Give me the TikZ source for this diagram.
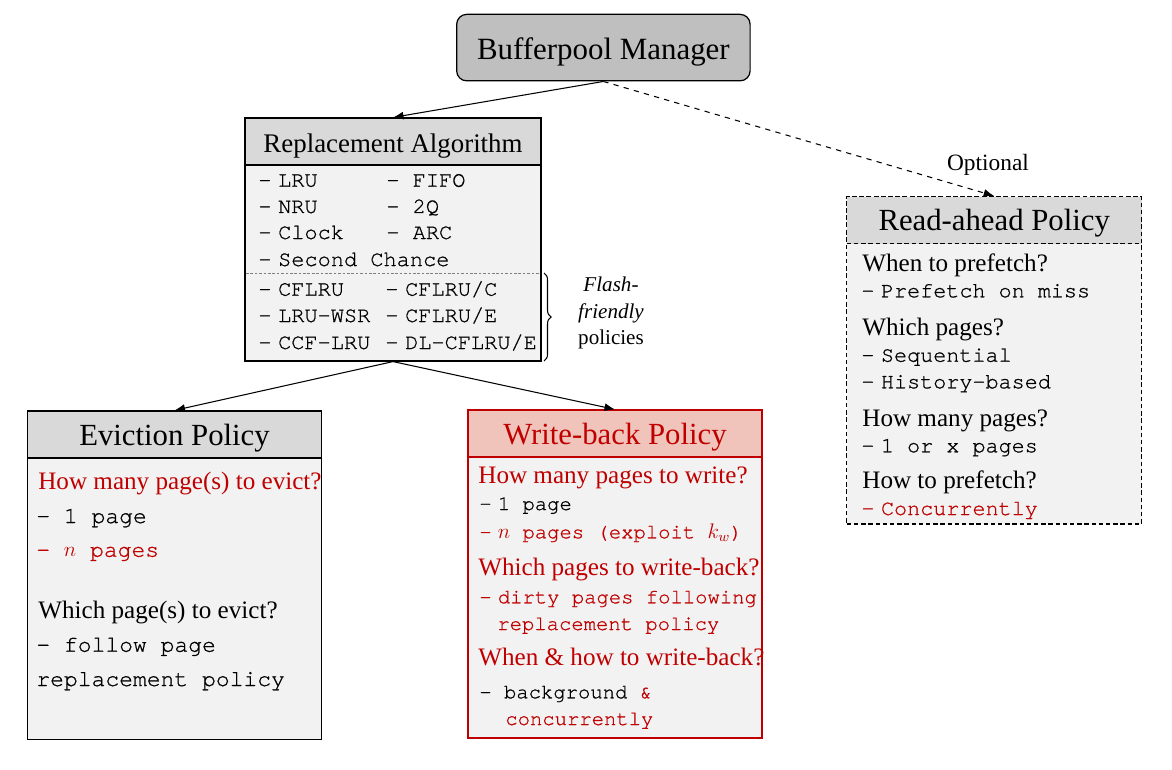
\documentclass[tikz,border=0pt]{standalone}
\usepackage{fontspec}
\setmainfont{Liberation Serif}
\setmonofont[FakeBold=0.8]{TeX Gyre Cursor}
\usepackage{xcolor}
\usetikzlibrary{arrows.meta, positioning, calc, decorations.pathreplacing}

\definecolor{hdgray}{HTML}{D9D9D9}
\definecolor{bodygray}{HTML}{F2F2F2}
\definecolor{mgrgray}{HTML}{BFBFBF}
\definecolor{wbpink}{HTML}{F0C4BA}
\definecolor{darkred}{HTML}{C00000}

\newcommand{\dashgap}{-\hspace{0.3em}}

\tikzset{
  box/.style={draw, line width=0.7pt, fill=bodygray, inner sep=0pt},
  hdr/.style={draw, line width=0.7pt, fill=hdgray, inner sep=0pt, minimum height=0.94cm,
    text height=13pt, text depth=1pt, font=\fontsize{17.5}{20}\selectfont},
  txt/.style={anchor=base west, inner sep=0pt},
  qst/.style={txt, font=\fontsize{14.3}{17}\selectfont},
  racode/.style={txt, font=\ttfamily\fontsize{12.5}{15}\selectfont},
  evcode/.style={txt, font=\ttfamily\fontsize{13.1}{15}\selectfont},
  wbcode/.style={txt, font=\ttfamily\fontsize{11.7}{14}\selectfont},
  rhcode/.style={txt, font=\ttfamily\fontsize{12.4}{15}\selectfont},
  brtxt/.style={anchor=base, inner sep=0pt, font=\fontsize{12}{14}\selectfont},
  sepline/.style={draw=gray, line width=0.4pt, dash pattern=on 1.5pt off 1pt},
  conn/.style={-{Latex[length=6pt,width=4.5pt]}, line width=0.6pt}
}

\begin{document}
\begin{tikzpicture}[x=0.02cm, y=-0.02cm]
  \useasboundingbox (0,0) rectangle (1172,770);

  % Bufferpool Manager
  \node[draw, line width=0.7pt, fill=mgrgray, rounded corners=0.2cm, minimum width=5.87cm,
    minimum height=1.33cm, text height=14pt, text depth=1pt,
    font=\fontsize{17.6}{20}\selectfont] (bm) at (603.4,47.6) {Bufferpool Manager};

  % Replacement Algorithm
  \node[box, minimum width=5.92cm, minimum height=4.86cm] (ra) at (393,239.5) {};
  \node[hdr, minimum width=5.92cm, anchor=north, font=\fontsize{15.3}{18}\selectfont] (rahd) at (ra.north) {Replacement Algorithm};
  \node[racode] (lru) at (258,186.7) {\dashgap LRU};
  \node[racode] (fifo) at (386,186.7) {- FIFO};
  \node[racode] (nru) at (258,213) {\dashgap NRU};
  \node[racode] (twoq) at (386,213) {- 2Q};
  \node[racode] (clock) at (258,239) {\dashgap Clock};
  \node[racode] (arc) at (386,239) {- ARC};
  \node[racode] (second) at (258,266) {\dashgap Second Chance};
  \draw[sepline] (246,273) -- (540,273);
  \node[racode] (cflru) at (258,295.7) {\dashgap CFLRU};
  \node[racode] (cflruc) at (385,295.7) {\dashgap CFLRU/C};
  \node[racode] (lruwsr) at (258,322) {\dashgap LRU-WSR};
  \node[racode] (cflrue) at (385,322) {\dashgap CFLRU/E};
  \node[racode] (ccflru) at (258,349) {\dashgap CCF-LRU};
  \node[racode] (dlcflru) at (385,349) {\dashgap DL-CFLRU/E};

  % brace for flash-friendly ones
  \draw[line width=0.6pt, decorate, decoration={brace, amplitude=4pt}] (544,273) -- (544,361);
  \node[brtxt] (flash) at (611,291.7) {\textit{Flash-}};
  \node[brtxt] (friendly) at (611,318) {\textit{friendly}};
  \node[brtxt] (policies) at (611,344) {policies};

  % Eviction Policy
  \node[box, minimum width=5.89cm, minimum height=6.57cm] (ev) at (174.5,575.2) {};
  \node[hdr, minimum width=5.89cm, anchor=north] (evhd) at (ev.north) {Eviction Policy};
  \node[qst, text=darkred] (evq1) at (38,489.3) {How many page(s) to evict?};
  \node[evcode] (eva1) at (36,523) {- 1 page};
  \node[evcode, text=darkred] (eva2) at (36,556.7) {- $n$ pages};
  \node[qst] (evq2) at (38,618) {Which page(s) to evict?};
  \node[evcode] (eva3) at (36,651.7) {- follow page};
  \node[evcode] (eva4) at (36,686) {replacement policy};

  % Write-back Policy
  \node[box, draw=darkred, minimum width=5.88cm, minimum height=6.56cm] (wb) at (615,574) {};
  \node[hdr, draw=darkred, fill=wbpink, text=darkred, minimum width=5.88cm, anchor=north] (wbhd) at (wb.north) {Write-back Policy};
  \node[qst, text=darkred] (wbq1) at (478,483.3) {How many pages to write?};
  \node[wbcode] (wba1) at (479,510) {\dashgap 1 page};
  \node[wbcode, text=darkred] (wba2) at (479,538.3) {\dashgap$n$ pages (exploit $k_w$)};
  \node[qst, text=darkred] (wbq2) at (478,575) {Which pages to write-back?};
  \node[wbcode, text=darkred] (wba3) at (479,603.3) {\dashgap dirty pages following};
  \node[wbcode, text=darkred] (wba4) at (497,630) {replacement policy};
  \node[qst, text=darkred] (wbq3) at (478,665) {When \& how to write-back?};
  \node[wbcode] (wba5) at (479,698.3) {- background \textcolor{darkred}{\&}};
  \node[wbcode, text=darkred] (wba6) at (505,725) {concurrently};

  % Read-ahead Policy
  \node[box, dash pattern=on 2.5pt off 1.6pt, minimum width=5.9cm, minimum height=6.55cm] (rh) at (994.2,360.3) {};
  \node[hdr, dash pattern=on 2.5pt off 1.6pt, minimum width=5.9cm, anchor=north] (rhhd) at (rh.north) {Read-ahead Policy};
  \node[qst] (rhq1) at (862,271.7) {When to prefetch?};
  \node[rhcode] (rha1) at (861,297.3) {\dashgap Prefetch on miss};
  \node[qst] (rhq2) at (862,335) {Which pages?};
  \node[rhcode] (rha2) at (861,361.7) {\dashgap Sequential};
  \node[rhcode] (rha3) at (861,388.3) {\dashgap History-based};
  \node[qst] (rhq3) at (862,426) {How many pages?};
  \node[rhcode] (rha4) at (861,452.3) {\dashgap 1 or x pages};
  \node[qst] (rhq4) at (862,488.3) {How to prefetch?};
  \node[rhcode, text=darkred] (rha5) at (861,515) {\dashgap Concurrently};

  % connectors
  \draw[conn] (bm.south) -- (ra.north);
  \draw[conn, dashed] (bm.south) -- (rh.north);
  \node[anchor=base, inner sep=0pt, font=\fontsize{13.3}{15}\selectfont] (opt) at (988,170.7) {Optional};
  \draw[conn] (ra.south) -- (ev.north);
  \draw[conn] (ra.south) -- (wb.north);
\end{tikzpicture}
\end{document}
